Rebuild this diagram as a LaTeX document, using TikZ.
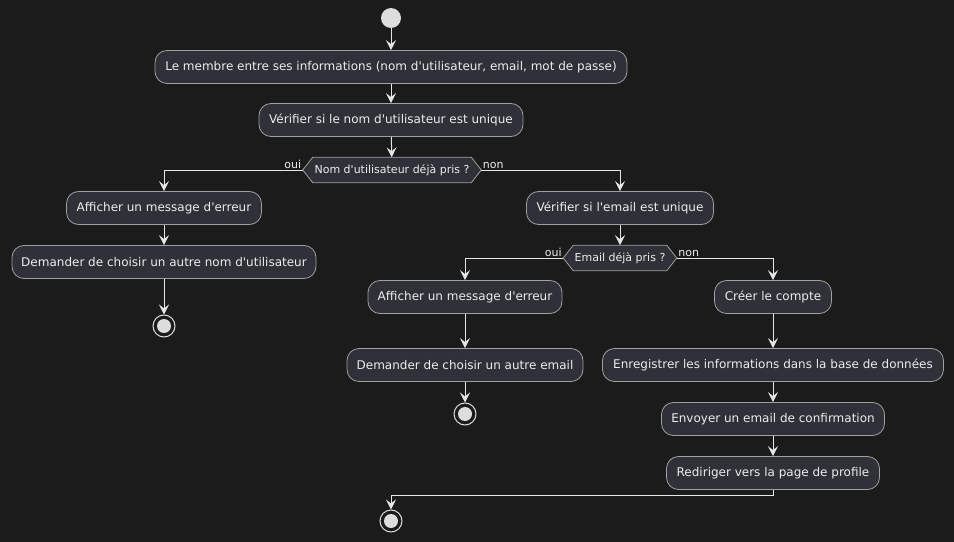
\documentclass[tikz,border=0pt]{standalone}
\usepackage{fontspec}
\setmainfont{DejaVu Sans}[Ligatures=TeXOff]
\usetikzlibrary{arrows.meta}
\definecolor{bg}{HTML}{1B1B1B}
\definecolor{boxfill}{HTML}{2F3038}
\definecolor{boxline}{HTML}{A0A0A0}
\definecolor{txt}{HTML}{EDEDED}
\definecolor{wire}{HTML}{E6E6E6}
\definecolor{dot}{HTML}{DDDDDD}
\pgfdeclarelayer{back}
\pgfdeclarelayer{shapes}
\pgfsetlayers{back,shapes,main}
\begin{document}
\begin{tikzpicture}[x=0.75pt,y=-0.75pt,
  act/.style={draw=boxline, fill=boxfill, text=txt, rounded corners=9pt,
    minimum height=33*0.75pt, inner sep=0pt, line width=0.6pt,
    font=\fontsize{9}{11}\selectfont},
  dec/.style={text=txt, minimum height=25*0.75pt, inner sep=0pt,
    font=\fontsize{8.25}{10}\selectfont},
  hexa/.style={draw=boxline, fill=boxfill, line width=0.6pt},
  flow/.style={draw=wire, line width=0.75pt,
    -{Stealth[length=7.5pt,width=7.5pt,inset=3pt]}},
  lbl/.style={text=txt, font=\fontsize{8.25}{10}\selectfont, inner sep=1pt},
  startdot/.style={circle, fill=dot, minimum size=20*0.75pt, inner sep=0pt},
  stopdot/.style={circle, draw=dot, line width=0.75pt, minimum size=22*0.75pt,
    inner sep=0pt, path picture={\fill[dot] (path picture bounding box.center) circle (7*0.75pt);}}
]
\begin{pgfonlayer}{back}
\fill[bg] (0,0) rectangle (954,542);
\end{pgfonlayer}
\useasboundingbox (0,0) rectangle (954,542);

% main column
\node[startdot] (start) at (391,18) {};
\node[act, minimum width=472*0.75pt] (a1) at (391,67) {Le membre entre ses informations (nom d'utilisateur, email, mot de passe)};
\node[act, minimum width=264*0.75pt] (a2) at (391,120) {Vérifier si le nom d'utilisateur est unique};
\node[dec, minimum width=178*0.75pt] (d1) at (392,170) {Nom d'utilisateur déjà pris ?};

% left branch
\node[act, minimum width=195*0.75pt] (l1) at (164,208) {Afficher un message d'erreur};
\node[act, minimum width=304*0.75pt] (l2) at (164,262) {Demander de choisir un autre nom d'utilisateur};
\node[stopdot] (s1) at (164,326) {};

% right branch
\node[act, minimum width=187*0.75pt] (r1) at (620,208) {Vérifier si l'email est unique};
\node[dec, minimum width=113*0.75pt] (d2) at (620,258) {Email déjà pris ?};

\node[act, minimum width=194*0.75pt] (m1) at (465,297) {Afficher un message d'erreur};
\node[act, minimum width=236*0.75pt] (m2) at (465,365) {Demander de choisir un autre email};
\node[stopdot] (s2) at (465,414) {};

\node[act, minimum width=117*0.75pt] (n1) at (773,297) {Créer le compte};
\node[act, minimum width=341*0.75pt] (n2) at (773,365) {Enregistrer les informations dans la base de données};
\node[act, minimum width=223*0.75pt] (n3) at (773,419) {Envoyer un email de confirmation};
\node[act, minimum width=213*0.75pt] (n4) at (773,473) {Rediriger vers la page de profile};

\node[stopdot] (s3) at (391,521) {};
\coordinate (j) at (391,495);

% hexagons behind decision texts
\begin{pgfonlayer}{shapes}
\foreach \d in {d1,d2}{
  \draw[hexa] (\d.west) -- ([xshift=10*0.75pt]\d.north west) -- ([xshift=-10*0.75pt]\d.north east)
    -- (\d.east) -- ([xshift=-10*0.75pt]\d.south east) -- ([xshift=10*0.75pt]\d.south west) -- cycle;
}
\end{pgfonlayer}

% connectors
\draw[flow] (start) -- (a1);
\draw[flow] (a1) -- (a2);
\draw[flow] (a2) -- (d1);
\draw[flow] (d1.west) -| (l1.north);
\node[lbl, anchor=south east] (oui1) at (d1.west) {oui};
\draw[flow] (d1.east) -| (r1.north);
\node[lbl, anchor=south west] (non1) at (d1.east) {non};
\draw[flow] (l1) -- (l2);
\draw[flow] (l2) -- (s1);
\draw[flow] (r1) -- (d2);
\draw[flow] (d2.west) -| (m1.north);
\node[lbl, anchor=south east] (oui2) at (d2.west) {oui};
\draw[flow] (d2.east) -| (n1.north);
\node[lbl, anchor=south west] (non2) at (d2.east) {non};
\draw[flow] (m1) -- (m2);
\draw[flow] (m2) -- (s2);
\draw[flow] (n1) -- (n2);
\draw[flow] (n2) -- (n3);
\draw[flow] (n3) -- (n4);
\draw[flow] (n4.south) |- (j) -- (s3);
\end{tikzpicture}
\end{document}
